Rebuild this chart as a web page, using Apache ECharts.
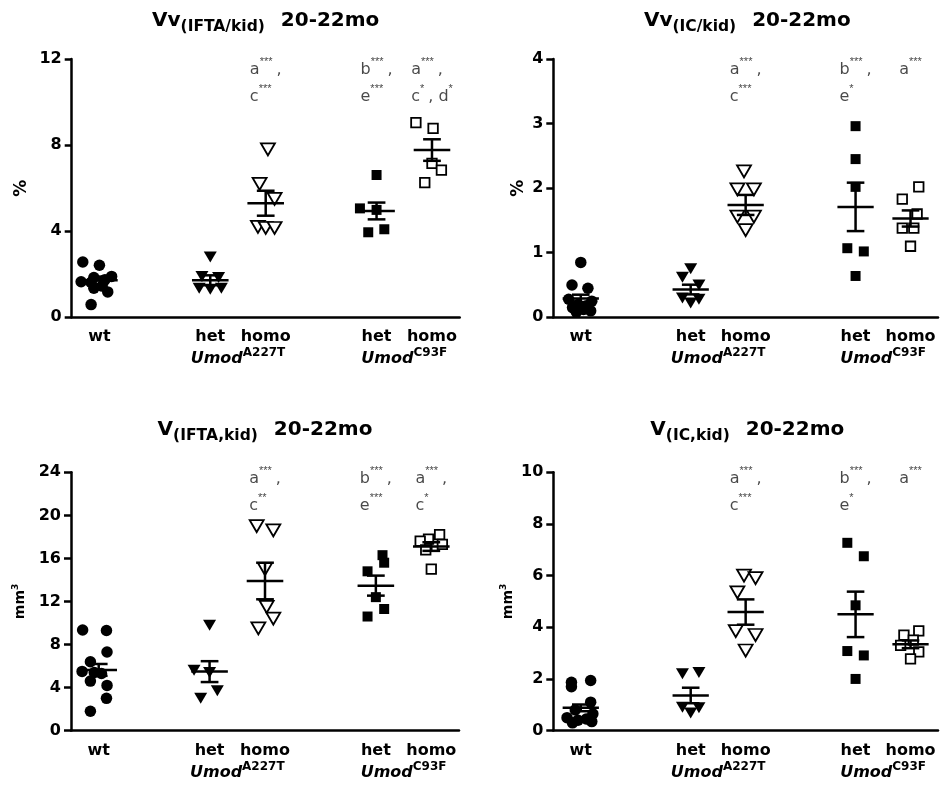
<!DOCTYPE html>
<html><head><meta charset="utf-8">
<script src="https://cdn.jsdelivr.net/npm/echarts@6/dist/echarts.min.js"></script>
<style>html,body{margin:0;padding:0;background:#fff}#c{width:941px;height:796px}</style>
</head><body><div id="c"></div>
<script>
// ================= DATA =================
const groupLabels = ['wt', 'het', 'homo', 'het', 'homo'];
const geneLabels = [['Umod', 'A227T'], ['Umod', 'C93F']];

// Panel A: Vv(IFTA/kid) 20-22mo, %
const vvIftaTitle = ['Vv', '(IFTA/kid)', '20-22mo'];
const vvIftaTicks = [0, 4, 8, 12];
const vvIftaWt = [2.57, 2.42, 1.90, 1.85, 1.75, 1.65, 1.62, 1.45, 1.35, 1.18, 0.59];
const vvIftaHetA = [2.80, 1.90, 1.85, 1.35, 1.30, 1.35];
const vvIftaHomoA = [7.80, 6.20, 5.50, 4.20, 4.15, 4.15];
const vvIftaHetC = [6.61, 5.06, 4.99, 3.95, 4.09];
const vvIftaHomoC = [9.04, 8.78, 7.15, 6.84, 6.26];
const vvIftaMean = [1.72, 1.72, 5.30, 4.94, 7.77];
const vvIftaSem = [0.17, 0.23, 0.58, 0.39, 0.50];
const vvIftaNotes = ['', '', 'a***,\nc***', 'b***,\ne***', 'a***,\nc*, d*'];

// Panel B: Vv(IC/kid) 20-22mo, %
const vvIcTitle = ['Vv', '(IC/kid)', '20-22mo'];
const vvIcTicks = [0, 1, 2, 3, 4];
const vvIcWt = [0.85, 0.50, 0.45, 0.28, 0.25, 0.20, 0.18, 0.15, 0.12, 0.10, 0.08];
const vvIcHetA = [0.75, 0.62, 0.50, 0.30, 0.22, 0.28];
const vvIcHomoA = [2.26, 1.98, 1.98, 1.56, 1.56, 1.35];
const vvIcHetC = [2.96, 2.45, 2.02, 1.07, 1.02, 0.64];
const vvIcHomoC = [2.02, 1.83, 1.60, 1.38, 1.38, 1.10];
const vvIcMean = [0.29, 0.43, 1.74, 1.71, 1.53];
const vvIcSem = [0.06, 0.075, 0.155, 0.375, 0.125];
const vvIcNotes = ['', '', 'a***,\nc***', 'b***,\ne*', 'a***'];

// Panel C: V(IFTA,kid) 20-22mo, mm3
const vIftaTitle = ['V', '(IFTA,kid)', '20-22mo'];
const vIftaTicks = [0, 4, 8, 12, 16, 20, 24];
const vIftaWt = [9.35, 9.30, 7.30, 6.40, 5.50, 5.40, 5.30, 4.60, 4.20, 3.00, 1.80];
const vIftaHetA = [9.80, 5.60, 5.40, 3.70, 3.00];
const vIftaHomoA = [19.0, 18.6, 15.0, 11.5, 10.4, 9.5];
const vIftaHetC = [16.3, 15.6, 14.8, 12.4, 11.3, 10.6];
const vIftaHomoC = [18.2, 17.8, 17.6, 17.3, 16.8, 15.0];
const vIftaMean = [5.64, 5.48, 13.9, 13.47, 17.1];
const vIftaSem = [0.55, 0.97, 1.70, 0.93, 0.40];
const vIftaNotes = ['', '', 'a***,\nc**', 'b***,\ne***', 'a***,\nc*'];

// Panel D: V(IC,kid) 20-22mo, mm3
const vIcTitle = ['V', '(IC,kid)', '20-22mo'];
const vIcTicks = [0, 2, 4, 6, 8, 10];
const vIcWt = [1.94, 1.87, 1.70, 1.10, 0.80, 0.65, 0.50, 0.45, 0.40, 0.35, 0.30];
const vIcHetA = [2.25, 2.20, 0.90, 0.88, 0.68];
const vIcHomoA = [6.00, 5.90, 5.35, 3.85, 3.70, 3.10];
const vIcHetC = [7.27, 6.75, 4.85, 3.08, 2.91, 2.00];
const vIcHomoC = [3.86, 3.70, 3.50, 3.30, 3.05, 2.78];
const vIcMean = [0.88, 1.36, 4.59, 4.50, 3.34];
const vIcSem = [0.13, 0.30, 0.49, 0.88, 0.15];
const vIcNotes = ['', '', 'a***,\nc***', 'b***,\ne*', 'a***'];

// ================= LAYOUT (positions / styles only) =================
const groupPos = [0.5, 2.5, 3.5, 5.5, 6.5];
const genePos = [3, 6];
// horizontal scatter spread of the points, in category widths
const spreadA = [[-0.3,0,0.22,-0.1,0.1,-0.33,-0.15,0.05,-0.1,0.15,-0.15],[0,-0.15,0.15,-0.2,0,0.2],[0.04,-0.11,0.16,-0.14,0,0.16],[0,-0.3,0,-0.15,0.14],[-0.29,0.02,0,0.17,-0.13]];
const spreadB = [[0,-0.16,0.13,-0.22,0.2,-0.05,0.1,-0.15,0.05,0.18,-0.08],[0,-0.15,0.15,-0.15,0,0.15],[-0.03,-0.15,0.15,-0.15,0.15,0],[0,0,0,-0.15,0.15,0],[0.15,-0.15,0.12,-0.15,0.06,0]];
const spreadC = [[-0.29,0.14,0.15,-0.15,-0.3,-0.08,0.05,-0.15,0.15,0.14,-0.15],[0,-0.28,0,0.14,-0.16],[-0.15,0.15,0,0.03,0.15,-0.12],[0.12,0.15,-0.15,0,0.15,-0.15],[0.15,-0.05,-0.2,0.2,-0.1,0]];
const spreadD = [[0.18,-0.17,-0.17,0.18,-0.1,0.22,-0.25,0.1,-0.05,0.2,-0.15],[0.15,-0.15,-0.15,0.15,0],[-0.03,0.18,-0.15,-0.18,0.18,0],[-0.15,0.15,0,-0.15,0.15,0],[0.15,-0.12,0.05,-0.18,0.15,0]];

const panels = [
  {title: vvIftaTitle, unit: 'pct', ticks: vvIftaTicks, groups: [vvIftaWt, vvIftaHetA, vvIftaHomoA, vvIftaHetC, vvIftaHomoC], mean: vvIftaMean, sem: vvIftaSem, notes: vvIftaNotes, spread: spreadA,
   left: 71.7, top: 59, titleY: 11, nameGap: 42, noteOff: -3},
  {title: vvIcTitle, unit: 'pct', ticks: vvIcTicks, groups: [vvIcWt, vvIcHetA, vvIcHomoA, vvIcHetC, vvIcHomoC], mean: vvIcMean, sem: vvIcSem, notes: vvIcNotes, spread: spreadB,
   left: 553.3, top: 59, titleY: 11, nameGap: 26, noteOff: -3},
  {title: vIftaTitle, unit: 'mm', ticks: vIftaTicks, groups: [vIftaWt, vIftaHetA, vIftaHomoA, vIftaHetC, vIftaHomoC], mean: vIftaMean, sem: vIftaSem, notes: vIftaNotes, spread: spreadC,
   left: 71, top: 472.3, titleY: 420, nameGap: 44, noteOff: -7},
  {title: vIcTitle, unit: 'mm', ticks: vIcTicks, groups: [vIcWt, vIcHetA, vIcHomoA, vIcHetC, vIcHomoC], mean: vIcMean, sem: vIcSem, notes: vIcNotes, spread: spreadD,
   left: 553.3, top: 472.3, titleY: 420, nameGap: 38, noteOff: -7}
];
const GW = 388, GH = 258.3;
const FONT = 'DejaVu Sans';
const symbolDefs = [
  {symbol: 'circle', size: 11.5, rotate: 0, fill: '#000', border: 0},
  {symbol: 'triangle', size: [13, 11], rotate: 180, fill: '#000', border: 0},
  {symbol: 'triangle', size: [14, 12], rotate: 180, fill: '#fff', border: 1.8},
  {symbol: 'rect', size: 10, rotate: 0, fill: '#000', border: 0},
  {symbol: 'rect', size: 9.5, rotate: 0, fill: '#fff', border: 1.8}
];

function noteRich(txt) {
  return txt.split('\n').map(line => {
    const parts = line.match(/\*+|[^*]+/g) || [];
    return parts.map(p => {
      if (p[0] === '*') return '{s|' + p + '}';
      if (p[0] === ',') return '{k|' + p + '}';
      return '{t|' + p + '}';
    }).join('');
  }).join('\n');
}

const option = {
  animation: false,
  backgroundColor: '#fff',
  grid: [], xAxis: [], yAxis: [], series: [], graphic: []
};

panels.forEach((p, pi) => {
  const yMax = p.ticks[p.ticks.length - 1];
  const interval = p.ticks[1] - p.ticks[0];
  option.grid.push({left: p.left, top: p.top, width: GW, height: GH, containLabel: false});
  option.xAxis.push({
    type: 'value', gridIndex: pi, min: 0, max: 7, interval: 0.5,
    axisLine: {show: true, onZero: false, lineStyle: {color: '#000', width: 2.5}},
    axisTick: {show: false}, splitLine: {show: false},
    axisLabel: {margin: 12, color: '#000', fontFamily: FONT, fontWeight: 'bold', fontSize: 16,
      formatter: v => { const i = groupPos.findIndex(g => Math.abs(g - v) < 1e-6); return i >= 0 ? groupLabels[i] : ''; }}
  });
  option.xAxis.push({
    type: 'value', gridIndex: pi, min: 0, max: 7, interval: 0.5, position: 'bottom', offset: 22,
    axisLine: {show: false}, axisTick: {show: false}, splitLine: {show: false},
    axisLabel: {margin: 8, color: '#000',
      formatter: v => { const i = genePos.findIndex(g => Math.abs(g - v) < 1e-6); return i >= 0 ? '{u|' + geneLabels[i][0] + '}{p|' + geneLabels[i][1] + '}' : ''; },
      rich: {
        u: {fontFamily: FONT, fontWeight: 'bold', fontStyle: 'italic', fontSize: 16, lineHeight: 20, verticalAlign: 'bottom', color: '#000'},
        p: {fontFamily: FONT, fontWeight: 'bold', fontSize: 12, lineHeight: 12, padding: [0, 0, 12, 0], verticalAlign: 'top', color: '#000'}
      }}
  });
  option.yAxis.push({
    type: 'value', gridIndex: pi, min: 0, max: yMax, interval: interval,
    name: p.unit === 'pct' ? '%' : '{m|mm}{p|3}',
    nameLocation: 'middle', nameGap: p.nameGap,
    nameTextStyle: {color: '#000', fontFamily: FONT, fontWeight: 'bold', fontSize: 17,
      rich: {m: {fontFamily: FONT, fontWeight: 'bold', fontSize: 14, lineHeight: 16, verticalAlign: 'bottom', color: '#000'},
             p: {fontFamily: FONT, fontWeight: 'bold', fontSize: 9, lineHeight: 9, padding: [0, 0, 8, 0], verticalAlign: 'top', color: '#000'}}},
    axisLine: {show: true, lineStyle: {color: '#000', width: 2.5}},
    axisTick: {show: true, length: 7, lineStyle: {color: '#000', width: 2.5}},
    splitLine: {show: false},
    axisLabel: {margin: 10, color: '#000', fontFamily: FONT, fontWeight: 'bold', fontSize: 16}
  });
  const xi = pi * 2;
  p.groups.forEach((vals, gi) => {
    const sd = symbolDefs[gi];
    option.series.push({
      type: 'scatter', xAxisIndex: xi, yAxisIndex: pi, z: 2,
      symbol: sd.symbol, symbolSize: sd.size, symbolRotate: sd.rotate,
      itemStyle: {color: sd.fill, borderColor: '#000', borderWidth: sd.border, opacity: 1},
      emphasis: {disabled: true}, silent: true,
      data: vals.map((v, k) => [groupPos[gi] + p.spread[gi][k], v])
    });
  });
  option.series.push({
    type: 'custom', xAxisIndex: xi, yAxisIndex: pi, z: 3, silent: true,
    data: p.mean.map((m, gi) => [groupPos[gi], m, p.sem[gi]]),
    encode: {x: 0, y: 1},
    renderItem: (params, api) => {
      const x = api.value(0), m = api.value(1), s = api.value(2);
      const pm = api.coord([x, m]);
      const l = api.coord([x - 0.33, m])[0], r = api.coord([x + 0.33, m])[0];
      const cl = api.coord([x - 0.16, m])[0], cr = api.coord([x + 0.16, m])[0];
      const yt = api.coord([x, m + s])[1], yb = api.coord([x, m - s])[1];
      const st = {stroke: '#000', lineWidth: 2.5};
      return {type: 'group', children: [
        {type: 'line', shape: {x1: l, y1: pm[1], x2: r, y2: pm[1]}, style: st},
        {type: 'line', shape: {x1: pm[0], y1: yt, x2: pm[0], y2: yb}, style: st},
        {type: 'line', shape: {x1: cl, y1: yt, x2: cr, y2: yt}, style: st},
        {type: 'line', shape: {x1: cl, y1: yb, x2: cr, y2: yb}, style: st}
      ]};
    }
  });
  option.series.push({
    type: 'scatter', xAxisIndex: xi, yAxisIndex: pi, z: 4, silent: true, clip: false,
    symbolSize: 1, itemStyle: {color: 'rgba(0,0,0,0)'},
    data: p.notes.map((n, gi) => ({value: [groupPos[gi], yMax], label: {show: n !== '', formatter: noteRich(n)}})).filter(d => d.label.show),
    label: {show: true, position: 'inside', align: 'center', verticalAlign: 'top', offset: [0, p.noteOff],
      textBorderWidth: 0,
      rich: {
        t: {fontFamily: FONT, fontSize: 16, color: '#1a1a1a', lineHeight: 27, verticalAlign: 'middle', align: 'left', textBorderWidth: 0},
        k: {fontFamily: FONT, fontSize: 16, color: '#1a1a1a', lineHeight: 27, verticalAlign: 'middle', align: 'left', padding: [0, 0, 0, 4], textBorderWidth: 0},
        s: {fontFamily: 'Liberation Sans', fontSize: 11, color: '#111', lineHeight: 11, verticalAlign: 'top', align: 'left', textBorderWidth: 0}
      }}
  });
  option.graphic.push({
    type: 'text', x: p.left + GW / 2, y: p.titleY, silent: true,
    style: {
      text: '{b|' + p.title[0] + '}{s|' + p.title[1] + '}{g|' + p.title[2] + '}',
      align: 'center', verticalAlign: 'top',
      rich: {
        b: {fontFamily: FONT, fontWeight: 'bold', fontSize: 20, lineHeight: 18, verticalAlign: 'top', fill: '#000'},
        s: {fontFamily: FONT, fontWeight: 'bold', fontSize: 15.5, lineHeight: 31, verticalAlign: 'middle', fill: '#000'},
        g: {fontFamily: FONT, fontWeight: 'bold', fontSize: 20, lineHeight: 18, verticalAlign: 'top', fill: '#000', padding: [0, 0, 0, 16]}
      }
    }
  });
});

const chart = echarts.init(document.getElementById('c'), null, {renderer: 'canvas'});
chart.setOption(option);
</script>
</body></html>
